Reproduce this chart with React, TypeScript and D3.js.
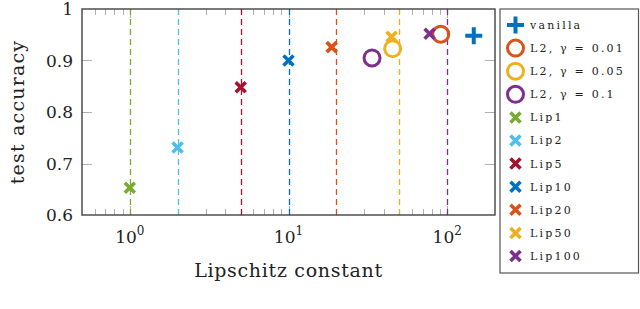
import React, { useEffect, useRef } from 'react'
import * as d3 from 'd3'

// series, in legend order
const labels = ['vanilla', 'L2, γ = 0.01', 'L2, γ = 0.05', 'L2, γ = 0.1', 'Lip1', 'Lip2', 'Lip5', 'Lip10', 'Lip20', 'Lip50', 'Lip100']
const lipschitz = [147, 91, 45.3, 33.6, 1, 2, 5, 10, 18.7, 44.6, 77.4]
const accuracy = [0.948, 0.951, 0.923, 0.905, 0.653, 0.731, 0.848, 0.9, 0.926, 0.946, 0.952]
const markers = ['plus', 'circle', 'circle', 'circle', 'x', 'x', 'x', 'x', 'x', 'x', 'x']
const colors = ['#0072bd', '#d95319', '#edb120', '#7e2f8e', '#77ac30', '#4dbeee', '#a2142f', '#0072bd', '#d95319', '#edb120', '#7e2f8e']

// Lipschitz bounds drawn as dashed verticals
const bounds = [1, 2, 5, 10, 20, 50, 100]
const boundColors = ['#77ac30', '#4dbeee', '#a2142f', '#0072bd', '#d95319', '#edb120', '#7e2f8e']

const yTicks = [0.6, 0.7, 0.8, 0.9, 1]
const xMajor = [1, 10, 100]
const xMinor = [0.6, 0.7, 0.8, 0.9, 2, 3, 4, 5, 6, 7, 8, 9, 20, 30, 40, 50, 60, 70, 80, 90]

const FONT = 'DejaVu Serif'

function drawMarker(g: any, type: string, cx: number, cy: number, color: string) {
  if (type === 'circle') {
    g.append('circle').attr('cx', cx).attr('cy', cy).attr('r', 8)
      .attr('fill', 'none').attr('stroke', color).attr('stroke-width', 3)
  } else if (type === 'plus') {
    const a = 8.5
    g.append('path').attr('d', `M${cx - a},${cy}H${cx + a}M${cx},${cy - a}V${cy + a}`)
      .attr('stroke', color).attr('stroke-width', 4).attr('fill', 'none')
  } else {
    const a = 5
    g.append('path').attr('d', `M${cx - a},${cy - a}L${cx + a},${cy + a}M${cx - a},${cy + a}L${cx + a},${cy - a}`)
      .attr('stroke', color).attr('stroke-width', 3.6).attr('fill', 'none')
  }
}

export default function App() {
  const svgRef = useRef<SVGSVGElement>(null)

  useEffect(() => {
    if (!svgRef.current) return
    const W = 640, H = 309
    const margin = { top: 9, left: 82, right: 145, bottom: 94 }
    const innerW = W - margin.left - margin.right
    const innerH = H - margin.top - margin.bottom

    const svg = d3.select(svgRef.current)
    svg.selectAll('*').remove()

    const x = d3.scaleLog().domain([0.5, 200]).range([0, innerW])
    const y = d3.scaleLinear().domain([0.6, 1]).range([innerH, 0])
    const crisp = (v: number) => Math.round(v) + 0.5

    const g = svg.append('g').attr('transform', `translate(${margin.left},${margin.top})`)

    // minor ticks, top and bottom
    xMinor.forEach(v => {
      const px = crisp(x(v))
      g.append('line').attr('x1', px).attr('x2', px).attr('y1', innerH).attr('y2', innerH - 6)
        .attr('stroke', '#b0b0b0').attr('stroke-width', 1)
      g.append('line').attr('x1', px).attr('x2', px).attr('y1', 0).attr('y2', 6)
        .attr('stroke', '#b0b0b0').attr('stroke-width', 1)
    })
    xMajor.forEach(v => {
      const px = crisp(x(v))
      g.append('line').attr('x1', px).attr('x2', px).attr('y1', innerH).attr('y2', innerH - 9)
        .attr('stroke', '#b0b0b0').attr('stroke-width', 1)
      g.append('line').attr('x1', px).attr('x2', px).attr('y1', 0).attr('y2', 9)
        .attr('stroke', '#b0b0b0').attr('stroke-width', 1)
    })
    // y ticks, left and right
    yTicks.slice(1, -1).forEach(v => {
      const py = crisp(y(v))
      g.append('line').attr('x1', 0).attr('x2', 10).attr('y1', py).attr('y2', py)
        .attr('stroke', '#b0b0b0').attr('stroke-width', 1)
      g.append('line').attr('x1', innerW).attr('x2', innerW - 10).attr('y1', py).attr('y2', py)
        .attr('stroke', '#b0b0b0').attr('stroke-width', 1)
    })

    // dashed bound lines
    bounds.forEach((b, i) => {
      const px = crisp(x(b))
      g.append('line').attr('x1', px).attr('x2', px).attr('y1', innerH).attr('y2', 0)
        .attr('stroke', boundColors[i]).attr('stroke-width', 1.3)
        .attr('stroke-dasharray', '6,4')
    })

    // frame
    g.append('rect').attr('width', innerW).attr('height', innerH)
      .attr('fill', 'none').attr('stroke', '#333').attr('stroke-width', 1.3)

    // markers
    labels.forEach((_, i) => {
      drawMarker(g, markers[i], x(lipschitz[i]), y(accuracy[i]), colors[i])
    })

    // y tick labels
    yTicks.forEach(v => {
      g.append('text').attr('x', -9).attr('y', y(v)).attr('dy', '0.36em')
        .attr('text-anchor', 'end').attr('font-family', FONT).attr('font-size', 17)
        .attr('fill', '#222')
        .text(v === 1 ? '1' : d3.format('.1f')(v))
    })
    // x tick labels, 10^k
    xMajor.forEach(v => {
      const t = g.append('text').attr('x', x(v)).attr('y', innerH + 28)
        .attr('text-anchor', 'middle').attr('font-family', FONT).attr('font-size', 17).attr('fill', '#222')
      t.append('tspan').text('10')
      t.append('tspan').attr('dy', -8).attr('font-size', 12).text(String(Math.round(Math.log10(v))))
    })

    // axis labels
    g.append('text').attr('x', innerW / 2).attr('y', innerH + 62)
      .attr('text-anchor', 'middle').attr('font-family', FONT).attr('font-size', 19)
      .attr('letter-spacing', 0.7).attr('fill', '#222').text('Lipschitz constant')
    svg.append('text').attr('transform', `translate(24,${margin.top + innerH / 2}) rotate(-90)`)
      .attr('text-anchor', 'middle').attr('font-family', FONT).attr('font-size', 19)
      .attr('letter-spacing', 1.2).attr('fill', '#222').text('test accuracy')

    // legend
    const lg = svg.append('g').attr('transform', 'translate(500,9)')
    lg.append('rect').attr('width', 138.5).attr('height', 264)
      .attr('fill', '#fff').attr('stroke', '#555').attr('stroke-width', 1.2)
    labels.forEach((label, i) => {
      const ly = 16 + i * 23.1
      drawMarker(lg, markers[i], 15.5, ly, colors[i])
      lg.append('text').attr('x', 30).attr('y', ly).attr('dy', '0.36em')
        .attr('font-family', FONT).attr('font-size', 11).attr('letter-spacing', 2.2)
        .attr('fill', '#222').text(label)
    })
  }, [])

  return (
    <svg ref={svgRef} width={640} height={309}
      style={{ position: 'absolute', left: 0, top: 0, background: '#fff' }} />
  )
}
